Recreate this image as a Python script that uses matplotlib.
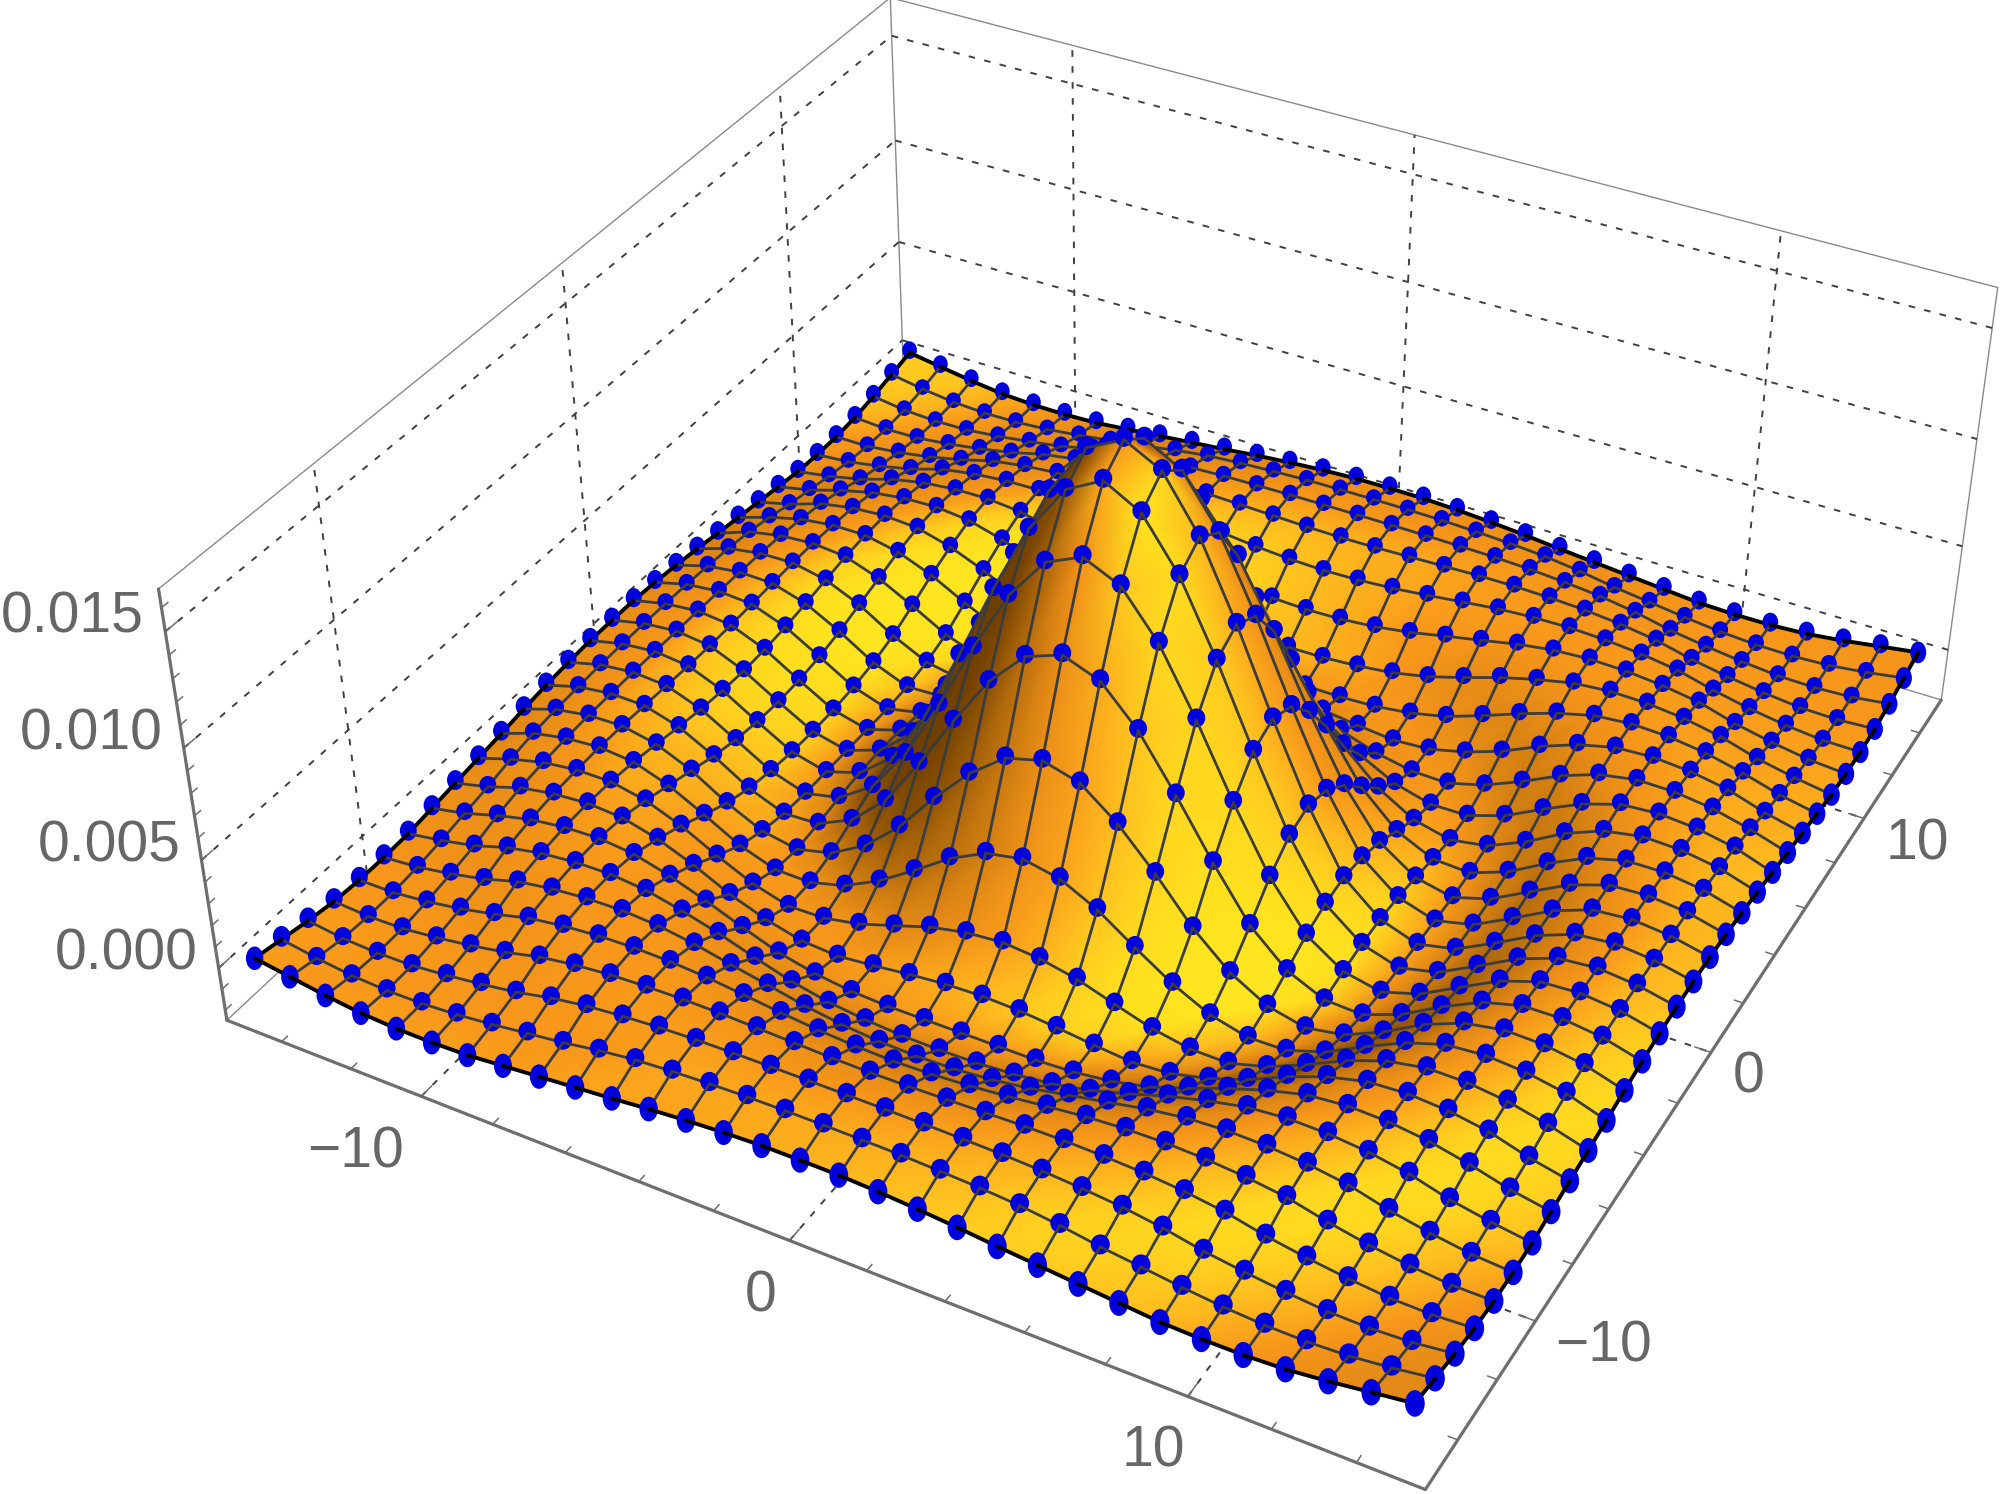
import numpy as np
import matplotlib
matplotlib.use('Agg')
import matplotlib.pyplot as plt
from matplotlib.colors import LinearSegmentedColormap
from matplotlib.collections import LineCollection
from matplotlib.patches import Ellipse
from matplotlib.tri import Triangulation
from mpl_toolkits.mplot3d import proj3d

plt.rcParams['font.family'] = ['Liberation Sans', 'DejaVu Sans']

# height for |x| (rows) and |y| (columns) = 0..15, in units of 1e-5
Z_QUARTER = [
    [1640, 1556, 1320, 987, 615, 270, -10, -150, -208, -170, -80, 17, 85, 103, 87, 50],
    [1556, 1467, 1245, 926, 570, 237, -25, -156, -208, -167, -75, 22, 87, 103, 86, 49],
    [1320, 1245, 1046, 759, 441, 153, -60, -172, -208, -155, -60, 33, 92, 102, 84, 42],
    [987, 926, 759, 524, 270, 37, -115, -192, -200, -135, -35, 50, 97, 100, 78, 31],
    [615, 570, 441, 270, 77, -72, -168, -208, -178, -100, 0, 70, 102, 97, 70, 17],
    [270, 237, 153, 37, -72, -156, -200, -197, -140, -50, 33, 89, 103, 90, 58, 0],
    [-10, -25, -60, -115, -168, -200, -203, -155, -80, 5, 68, 100, 99, 78, 37, -15],
    [-150, -156, -172, -192, -208, -197, -155, -95, -15, 50, 93, 103, 91, 62, 9, -30],
    [-208, -208, -208, -200, -178, -140, -80, -15, 43, 87, 103, 97, 75, 36, -12, -45],
    [-170, -167, -155, -135, -100, -50, 5, 50, 87, 102, 99, 82, 50, 0, -34, -60],
    [-80, -75, -60, -35, 0, 33, 68, 93, 103, 99, 84, 58, 10, -25, -52, -65],
    [17, 22, 33, 50, 70, 89, 100, 103, 97, 82, 58, 15, -20, -46, -63, -64],
    [85, 87, 92, 97, 102, 103, 99, 91, 75, 50, 10, -20, -44, -62, -65, -55],
    [103, 103, 102, 100, 97, 90, 78, 62, 36, 0, -25, -46, -62, -65, -57, -35],
    [87, 86, 84, 78, 70, 58, 37, 9, -12, -34, -52, -63, -65, -57, -37, -10],
    [50, 49, 42, 31, 17, 0, -15, -30, -45, -60, -65, -64, -55, -35, -10, 15],
]
xy_nodes = np.arange(-15, 16)

xy_major = [-10, 0, 10]
xy_minor = [-14, -12, -8, -6, -4, -2, 2, 4, 6, 8, 12, 14]
z_major = [0.000, 0.005, 0.010, 0.015]
z_minor = [-0.002, -0.001, 0.001, 0.002, 0.003, 0.004, 0.006, 0.007, 0.008, 0.009,
           0.011, 0.012, 0.013, 0.014, 0.016]
x_labels = ['\u221210', '0', '10']
y_labels = ['\u221210', '0', '10']
z_labels = ['0.000', '0.005', '0.010', '0.015']

XMIN, XMAX = -15.6, 15.6
ZMIN, ZMAX = -0.00248, 0.01678
VIEW = np.array([1.3, -2.4, 2.0])   # camera, in box units

quarter = np.array(Z_QUARTER) * 1e-5
X, Y = np.meshgrid(xy_nodes, xy_nodes, indexing='ij')
Z = quarter[np.abs(X), np.abs(Y)]
n = len(xy_nodes)

W_PX, H_PX = 2000, 1494
fig = plt.figure(figsize=(W_PX / 100, H_PX / 100), dpi=100)
side = 1863.5
rect = [167 / W_PX, -112 / H_PX, side / W_PX, side / H_PX]
ax = fig.add_axes(rect, projection='3d')
ax.set_box_aspect((1, 1, 0.4))
ax.view_init(elev=36.23, azim=-61.56, roll=0)
ax.set_proj_type('persp', focal_length=0.4384)
ax.set_xlim(XMIN, XMAX, view_margin=0)
ax.set_ylim(XMIN, XMAX, view_margin=0)
ax.set_zlim(ZMIN, ZMAX, view_margin=0)
ax.set_axis_off()


def edge(p, q, **kw):
    ax.plot([p[0], q[0]], [p[1], q[1]], [p[2], q[2]], clip_on=False, **kw)


thin = dict(color='#8a8a8a', lw=1.0, solid_capstyle='round')
thick = dict(color='#6e6e6e', lw=2.3, solid_capstyle='round')
dash = dict(color='#404040', lw=1.4, linestyle=(0, (3.4, 4.8)))
tick = dict(color='#6e6e6e', lw=1.1)

# thin box edges
edge((XMIN, XMIN, ZMAX), (XMIN, XMAX, ZMAX), **thin)
edge((XMIN, XMAX, ZMAX), (XMAX, XMAX, ZMAX), **thin)
edge((XMIN, XMAX, ZMIN), (XMIN, XMAX, ZMAX), **thin)
edge((XMAX, XMAX, ZMIN), (XMAX, XMAX, ZMAX), **thin)
edge((XMIN, XMIN, ZMIN), (XMIN, XMAX, ZMIN), **thin)
edge((XMIN, XMAX, ZMIN), (XMAX, XMAX, ZMIN), **thin)

# axes
edge((XMIN, XMIN, ZMIN), (XMAX, XMIN, ZMIN), **thick)
edge((XMAX, XMIN, ZMIN), (XMAX, XMAX, ZMIN), **thick)
edge((XMIN, XMIN, ZMIN), (XMIN, XMIN, ZMAX), **thick)

# grid on the back walls and the floor
for v in z_major:
    edge((XMIN, XMIN, v), (XMIN, XMAX, v), **dash)
    edge((XMIN, XMAX, v), (XMAX, XMAX, v), **dash)
for v in xy_major:
    edge((XMIN, v, ZMIN), (XMIN, v, ZMAX), **dash)
    edge((v, XMAX, ZMIN), (v, XMAX, ZMAX), **dash)
    edge((v, XMIN, ZMIN), (v, XMAX, ZMIN), **dash)
    edge((XMIN, v, ZMIN), (XMAX, v, ZMIN), **dash)

# ticks
for v, ln in [(a, 0.4) for a in xy_major] + [(a, 0.22) for a in xy_minor]:
    edge((v, XMIN, ZMIN), (v, XMIN + ln, ZMIN), **tick)
    edge((XMAX, v, ZMIN), (XMAX - ln, v, ZMIN), **tick)
for v, ln in [(a, 0.4) for a in z_major] + [(a, 0.22) for a in z_minor]:
    edge((XMIN, XMIN, v), (XMIN, XMIN + ln, v), **tick)

# surface goes in a second axes on top, depth sorted by hand so it can be gouraud shaded
ov = fig.add_axes(rect, zorder=ax.get_zorder() + 1)
ov.set_xlim(*ax.viewLim.intervalx)
ov.set_ylim(*ax.viewLim.intervaly)
ov.axis('off')
px_per_unit = side / (ax.viewLim.intervalx[1] - ax.viewLim.intervalx[0])
M = ax.get_proj()


def label(x, y, z, s, ha):
    lx, ly, _ = proj3d.proj_transform(x, y, z, M)
    ov.text(lx, ly, s, ha=ha, va='center', color='#666666', fontsize=41, zorder=1000)


for v, s in zip(z_major, z_labels):
    label(XMIN - 0.58, XMIN, v + 0.00027, s, 'right')
label(-10.2, XMIN - 2.25, ZMIN, x_labels[0], 'center')
label(0.37, XMIN - 1.8, ZMIN, x_labels[1], 'center')
label(10.1, XMIN - 1.75, ZMIN, x_labels[2], 'center')
label(XMAX + 1.6, -10.0, ZMIN, y_labels[0], 'center')
label(XMAX + 1.1, -0.39, ZMIN, y_labels[1], 'center')
label(XMAX + 1.53, 9.63, ZMIN, y_labels[2], 'center')

px, py, _ = proj3d.proj_transform(X.ravel().astype(float), Y.ravel().astype(float), Z.ravel(), M)
xrange_ = XMAX - XMIN
zrange = ZMAX - ZMIN

# lighting from the normal in view space
gx, gy = np.gradient(Z, xy_nodes, xy_nodes)
scale = (0.4 / zrange) * xrange_
N = np.dstack((-gx * scale, -gy * scale, np.ones_like(Z)))
N /= np.linalg.norm(N, axis=2, keepdims=True)
w = VIEW / np.linalg.norm(VIEW)
u = np.cross([0, 0, 1], w)
u /= np.linalg.norm(u)
v_ = np.cross(w, u)
light = 0.30 * u + 0.25 * v_ + 0.957 * w
dot = N @ light
nu = N @ u
shade = np.interp(dot, [0.10, 0.25, 0.35, 0.50, 0.62, 0.70, 0.767, 0.82, 0.875, 0.93, 1.0],
                  [0, 0.06, 0.20, 0.34, 0.42, 0.47, 0.50, 0.62, 0.74, 0.90, 1])
# left flank of the peak falls into shadow
shade = (shade * np.clip(1 + (nu + 0.4) * 1.3, 0, 1)).ravel()

cmap = LinearSegmentedColormap.from_list(
    'surf', [(0, '#6f3f00'), (0.25, '#c4760f'), (0.5, '#f9981b'), (0.75, '#ffbf1f'), (1, '#ffe51f')])

# box coordinates for the camera distance, dots shrink with it
bx = X / xrange_
by = Y / xrange_
bz = (Z - (ZMIN + ZMAX) / 2) * 0.4 / zrange
dist = np.sqrt((VIEW[0] - bx) ** 2 + (VIEW[1] - by) ** 2 + (VIEW[2] - bz) ** 2)

tris = {}
segs = {}
bsegs = {}
for i in range(n):
    for j in range(n):
        a = i * n + j
        if i < n - 1 and j < n - 1:
            b, c, d = (i + 1) * n + j, (i + 1) * n + j + 1, i * n + j + 1
            k = i + n - 2 - j
            tris.setdefault(k, []).extend([[a, b, c], [a, c, d]])
        if i < n - 1:
            k = i + n - 1 - j
            to = bsegs if j in (0, n - 1) else segs
            to.setdefault(k, []).append([(px[a], py[a]), (px[a + n], py[a + n])])
        if j < n - 1:
            k = i + n - 2 - j
            to = bsegs if i in (0, n - 1) else segs
            to.setdefault(k, []).append([(px[a], py[a]), (px[a + 1], py[a + 1])])
        # spheres are cut by the surface: full on the near edges, flatter elsewhere
        near = (j == 0 or i == n - 1)
        far = (j == n - 1 or i == 0)
        k_dot = i + n - 1 - j
        s = 2.95 / dist[i, j] / px_per_unit
        wd = 20 * s
        ht = 27 * s if near else (24 * s if far else 21 * s)
        up = 0 if near else (3.5 * s if far else 2.5 * s)
        ov.add_patch(Ellipse((px[a], py[a] + up), wd, ht, facecolor='#0000dd', edgecolor='none',
                             zorder=3 * k_dot + 1.5))

for k, t in tris.items():
    ov.tripcolor(Triangulation(px, py, np.array(t)), shade, shading='gouraud', cmap=cmap,
                 vmin=0, vmax=1, zorder=3 * k + 1)
for k, s in segs.items():
    ov.add_collection(LineCollection(s, colors='#3c3c3c', linewidths=2.0, zorder=3 * k + 2, capstyle='round'))
for k, s in bsegs.items():
    ov.add_collection(LineCollection(s, colors='black', linewidths=2.8, zorder=3 * k + 2, capstyle='round'))

fig.savefig('out.png', dpi=100)
